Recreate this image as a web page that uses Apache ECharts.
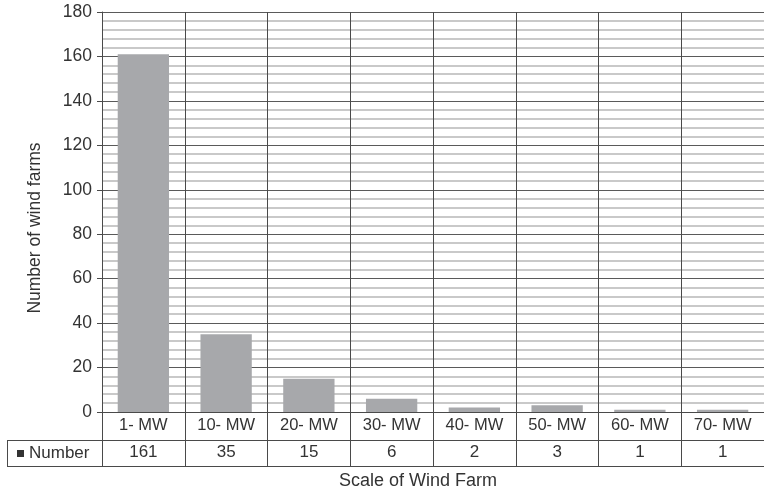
<!DOCTYPE html>
<html>
<head>
<meta charset="utf-8">
<script src="https://cdn.jsdelivr.net/npm/echarts@6/dist/echarts.min.js"></script>
<style>
html,body{margin:0;padding:0;background:#fff;}
#chart{width:764px;height:494px;}
</style>
</head>
<body>
<div id="chart"></div>
<script>
var categories = ['1- MW', '10- MW', '20- MW', '30- MW', '40- MW', '50- MW', '60- MW', '70- MW'];
var values = [161, 35, 15, 6, 2, 3, 1, 1];
var seriesName = 'Number';
var yTicks = {min: 0, max: 180, interval: 20};
var xTitle = 'Scale of Wind Farm';
var yTitle = 'Number of wind farms';

var FONT = '"Liberation Sans", Arial, Helvetica, sans-serif';
var TXT = '#333';
var LINE = '#4a4a4a';

var chart = echarts.init(document.getElementById('chart'), null, {renderer: 'canvas'});
chart.setOption({
  backgroundColor: '#fff',
  animation: false,
  textStyle: {fontFamily: FONT},
  grid: {left: 102, top: 12, width: 668, height: 400, containLabel: false},
  xAxis: [
    {
      type: 'category', data: categories, position: 'bottom',
      axisLine: {show: true, lineStyle: {color: LINE, width: 1}},
      axisTick: {show: true, length: 54, interval: 0, alignWithLabel: false, lineStyle: {color: LINE, width: 1}},
      axisLabel: {fontSize: 16.5, color: TXT, margin: 5, fontFamily: FONT, interval: 0},
      splitLine: {show: true, interval: 0, lineStyle: {color: LINE, width: 1}}
    },
    {
      type: 'category', data: values.map(String), position: 'bottom', offset: 28,
      axisLine: {show: true, lineStyle: {color: LINE, width: 1}},
      axisTick: {show: false},
      axisLabel: {fontSize: 17, color: TXT, margin: 4, fontFamily: FONT, interval: 0},
      splitLine: {show: false}
    },
    {
      type: 'category', data: categories, position: 'bottom', offset: 54,
      axisLine: {show: true, lineStyle: {color: LINE, width: 1}},
      axisTick: {show: false},
      axisLabel: {show: false},
      splitLine: {show: false}
    }
  ],
  yAxis: {
    type: 'value', min: yTicks.min, max: yTicks.max, interval: yTicks.interval,
    axisLine: {show: true, lineStyle: {color: LINE, width: 1}},
    axisTick: {show: true, length: 5, lineStyle: {color: LINE}},
    axisLabel: {fontSize: 17.5, color: TXT, margin: 10, fontFamily: FONT},
    splitLine: {show: true, lineStyle: {color: '#5a5a5a', width: 1}},
    minorTick: {show: false, splitNumber: 5},
    minorSplitLine: {show: true, lineStyle: {color: '#b8b8b8', width: 1.5}}
  },
  series: [{
    name: seriesName, type: 'bar', data: values, xAxisIndex: 0,
    barCategoryGap: '38%',
    itemStyle: {color: '#a7a8ab'},
    z: 3
  }],
  graphic: [
    {type: 'line', shape: {x1: 7, y1: 440.5, x2: 102, y2: 440.5}, style: {stroke: LINE, lineWidth: 1}},
    {type: 'line', shape: {x1: 7, y1: 466.5, x2: 102, y2: 466.5}, style: {stroke: LINE, lineWidth: 1}},
    {type: 'line', shape: {x1: 7.5, y1: 440, x2: 7.5, y2: 467}, style: {stroke: LINE, lineWidth: 1}},
    {type: 'rect', shape: {x: 17, y: 450, width: 7, height: 7}, style: {fill: '#333'}},
    {type: 'text', style: {text: seriesName, x: 29, y: 453.5, textVerticalAlign: 'middle', textAlign: 'left', fontSize: 17, fontFamily: FONT, fill: TXT}},
    {type: 'text', style: {text: xTitle, x: 418, y: 481, textAlign: 'center', textVerticalAlign: 'middle', fontSize: 18, fontFamily: FONT, fill: TXT}},
    {type: 'text', rotation: Math.PI / 2, x: 35, y: 228, style: {text: yTitle, x: 0, y: 0, textAlign: 'center', textVerticalAlign: 'middle', fontSize: 17.5, fontFamily: FONT, fill: TXT}}
  ]
});
</script>
</body>
</html>
